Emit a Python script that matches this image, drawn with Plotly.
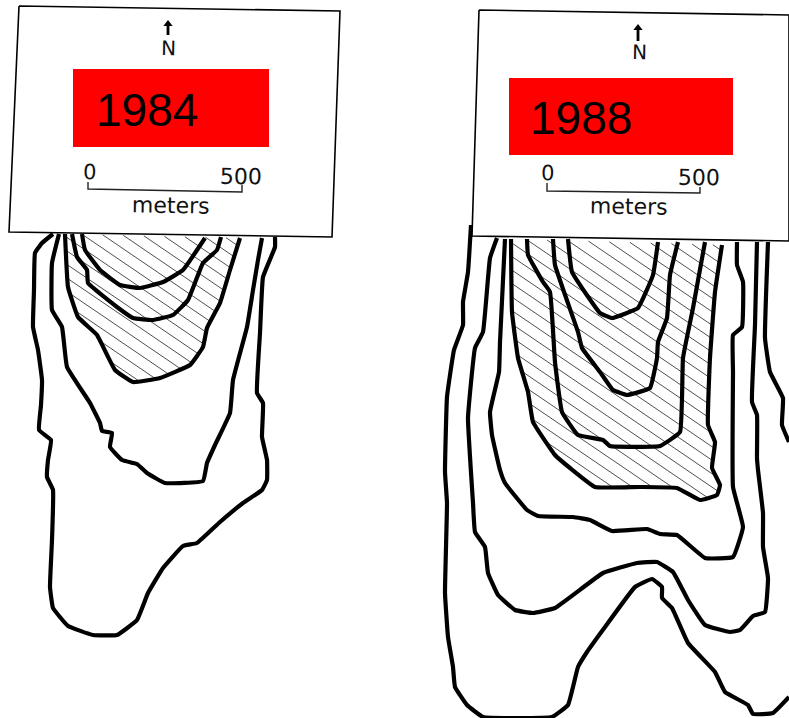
import numpy as np
import plotly.graph_objects as go

# Contours, 1984 panel (map position)
C84_A = [(53,234),(42,243),(35,253),(34,290),(33,327),(38,350),(42,380),(41,405),(39,430),(51,440),(48,460),(47,477),(53,490),(52,540),(50,587),(53,608),(68,626),(93,635),(117,635),(137,620),(148,593),(163,568),(183,546),(197,543),(220,522),(243,503),(262,490),(267,480),(267,460),(262,437),(263,403),(257,393),(260,333),(263,277),(275,247),(275,237)]
C84_B = [(59,234),(52,263),(52,310),(62,327),(67,367),(90,403),(100,423),(102,431),(112,433),(110,447),(122,460),(137,464),(147,473),(165,483),(203,481),(207,463),(215,445),(230,413),(233,380),(247,327),(253,290),(258,260),(262,238)]
C84_HATCH = [(65,234),(68,287),(78,317),(97,335),(115,370),(133,382),(160,378),(190,365),(203,347),(207,328),(220,303),(230,270),(240,238)]
C84_D = [(72,234),(77,257),(87,270),(88,283),(117,307),(133,318),(153,320),(173,315),(188,300),(203,263),(217,250),(221,237)]
C84_E = [(82,234),(85,250),(100,270),(120,285),(140,288),(163,282),(183,270),(205,238)]

# Contours, 1988 panel
C88_A = [(471,225),(468,272),(463,302),(463,325),(454,350),(447,397),(445,472),(447,503),(445,593),(448,637),(453,667),(455,687),(467,705),(483,717),(552,717),(568,705),(578,667),(587,652),(605,627),(635,587),(652,579),(662,587),(662,598),(672,608),(688,643),(715,672),(725,692),(748,705),(753,714),(773,713),(789,697)]
C88_A2 = [(768,242),(765,338),(770,372),(783,398),(782,425),(789,442)]
C88_B = [(497,238),(490,258),(483,332),(475,348),(468,418),(473,503),(475,532),(485,547),(488,573),(498,595),(515,610),(533,613),(555,608),(603,573),(637,563),(657,562),(673,572),(688,600),(705,625),(730,632),(740,630),(753,616),(765,612),(768,578),(763,547),(763,513),(758,470),(757,458),(757,415),(752,402),(755,325),(757,242)]
C88_C = [(505,239),(500,342),(499,372),(490,412),(492,435),(500,470),(505,483),(527,510),(538,516),(573,517),(590,520),(612,531),(647,529),(660,534),(677,535),(705,558),(733,557),(743,527),(733,487),(733,372),(733,335),(742,327),(743,282),(737,265),(737,242)]
C88_HATCH = [(511,239),(512,312),(518,358),(528,392),(533,422),(555,455),(570,468),(595,487),(640,487),(677,488),(700,500),(717,495),(720,485),(712,468),(715,442),(708,425),(710,358),(715,292),(722,245)]
C88_E = [(527,239),(528,255),(543,282),(550,292),(555,362),(562,412),(578,435),(603,440),(610,446),(660,446),(680,432),(683,358),(693,308),(705,242)]
C88_F = [(553,239),(555,265),(578,332),(582,348),(600,372),(613,390),(627,395),(650,388),(657,358),(658,342),(667,318),(670,275),(678,242)]
C88_G = [(568,239),(572,272),(600,313),(612,318),(638,308),(653,275),(658,242)]

# Legend cards
YEARS = ["1984", "1988"]
BOX_84 = [(19,6),(340,11),(332,237),(9,232),(19,6)]
BOX_88 = [(479,10),(789,15),(789,241),(472,236),(479,10)]
RED_84 = [(73,69),(269,69),(269,147),(73,147),(73,69)]
RED_88 = [(509,78),(733,78),(733,155),(509,155),(509,78)]
BAR_84 = [(88,182),(88,189),(242,192),(242,185)]
BAR_88 = [(547,183),(547,191),(700,193),(700,187)]
ARROW_84 = [(168,35),(168,24)]
ARROW_88 = [(638,41),(638,28)]
SCALE_LABELS = ["0", "500", "meters"]
NORTH_LABEL = "N"

HATCH_SLOPE = 0.68
HATCH_STEP = 13.5


def xs(p):
    return [a for a, _ in p]


def ys(p):
    return [b for _, b in p]


def hatch(poly, slope, step):
    """Clip a family of parallel lines to a polygon (even-odd)."""
    pts = list(poly) + [poly[0]]
    c = [y - slope * x for x, y in poly]
    hx, hy = [], []
    for k in np.arange(np.floor(min(c) / step) * step + 3.0, max(c), step):
        cuts = []
        for (x0, y0), (x1, y1) in zip(pts[:-1], pts[1:]):
            d0 = y0 - slope * x0 - k
            d1 = y1 - slope * x1 - k
            if d0 * d1 < 0:
                t = d0 / (d0 - d1)
                cuts.append(x0 + t * (x1 - x0))
        cuts.sort()
        for a, b in zip(cuts[0::2], cuts[1::2]):
            hx += [a, b, None]
            hy += [slope * a + k, slope * b + k, None]
    return hx, hy


fig = go.Figure()


def contour(p, width=4.2):
    fig.add_trace(go.Scatter(x=xs(p), y=ys(p), mode="lines", hoverinfo="skip",
                             line=dict(color="#000", width=width, shape="spline", smoothing=0.3)))


for poly in (C84_HATCH, C88_HATCH):
    hx, hy = hatch(poly, HATCH_SLOPE, HATCH_STEP)
    fig.add_trace(go.Scatter(x=hx, y=hy, mode="lines", hoverinfo="skip",
                             line=dict(color="#222", width=0.8)))

for p in (C84_A, C84_B, C84_HATCH, C84_D, C84_E,
          C88_A, C88_A2, C88_B, C88_C, C88_HATCH, C88_E, C88_F, C88_G):
    contour(p)

for box, red, bar, arrow in ((BOX_84, RED_84, BAR_84, ARROW_84), (BOX_88, RED_88, BAR_88, ARROW_88)):
    fig.add_trace(go.Scatter(x=xs(box), y=ys(box), mode="lines", fill="toself", fillcolor="#fff",
                             hoverinfo="skip", line=dict(color="#000", width=1.6)))
    fig.add_trace(go.Scatter(x=xs(red), y=ys(red), mode="lines", fill="toself", fillcolor="#ff0000",
                             hoverinfo="skip", line=dict(color="#ff0000", width=0)))
    fig.add_trace(go.Scatter(x=xs(bar), y=ys(bar), mode="lines", hoverinfo="skip",
                             line=dict(color="#222", width=1.4)))
    fig.add_trace(go.Scatter(x=xs(arrow), y=ys(arrow), mode="lines", hoverinfo="skip",
                             line=dict(color="#000", width=2.8)))
    fig.add_trace(go.Scatter(x=[arrow[1][0]], y=[arrow[1][1]], mode="markers", hoverinfo="skip",
                             marker=dict(symbol="triangle-up", color="#000", size=8, line=dict(width=0))))


def label(text, x, y, size, family="DejaVu Sans", angle=1, color="#111"):
    fig.add_annotation(x=x, y=y, xref="x", yref="y", text=text, showarrow=False,
                       textangle=angle, xanchor="center", yanchor="middle",
                       font=dict(family=family, size=size, color=color))


label(YEARS[0], 147, 110, 46, family="Liberation Sans", angle=0, color="#000")
label(YEARS[1], 581, 118, 46, family="Liberation Sans", angle=0, color="#000")
label(NORTH_LABEL, 168, 48, 20)
label(NORTH_LABEL, 639, 52, 20)
label(SCALE_LABELS[0], 89, 172, 21)
label(SCALE_LABELS[1], 241, 176, 22)
label(SCALE_LABELS[2], 171, 205, 22)
label(SCALE_LABELS[0], 547, 173, 21)
label(SCALE_LABELS[1], 699, 177, 22)
label(SCALE_LABELS[2], 629, 206, 22)

axis = dict(visible=False, showgrid=False, zeroline=False, fixedrange=True)
fig.update_layout(width=789, height=718, margin=dict(l=0, r=0, t=0, b=0),
                  paper_bgcolor="#fff", plot_bgcolor="#fff", showlegend=False,
                  xaxis=dict(range=[0, 789], **axis),
                  yaxis=dict(range=[718, 0], **axis))
fig.write_html("out.html", post_script="document.body.style.margin='0';document.body.style.overflow='hidden';",
               config=dict(displayModeBar=False))
